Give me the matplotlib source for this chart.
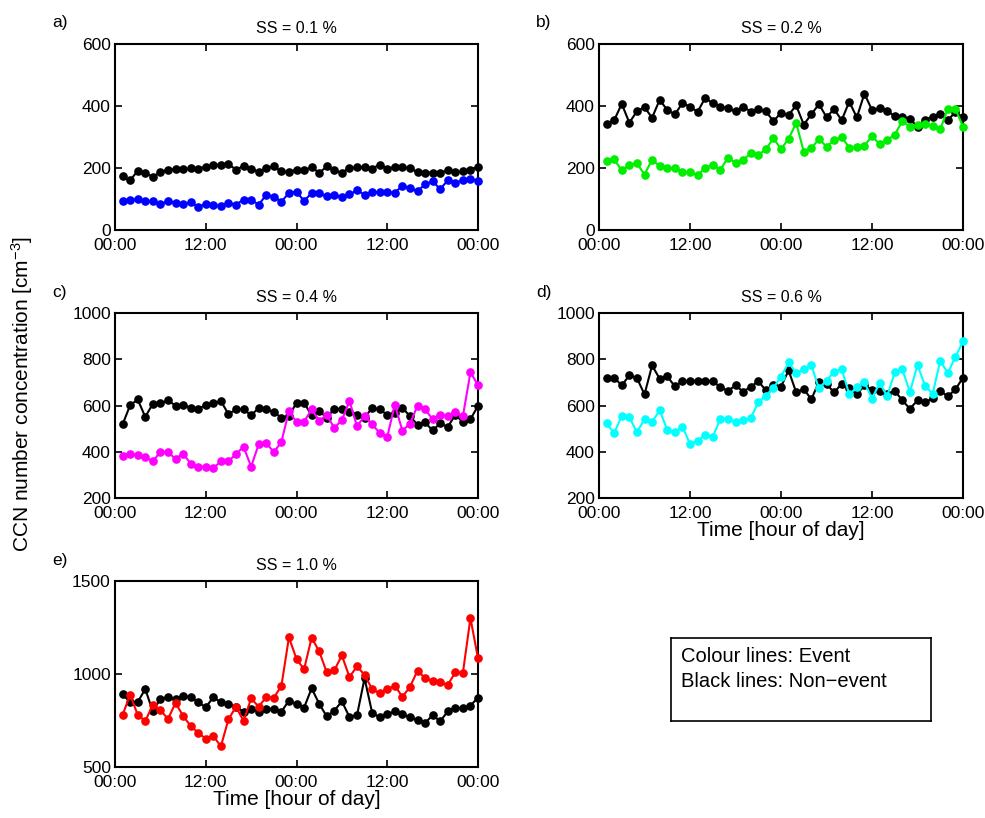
import numpy as np
import matplotlib
matplotlib.use("Agg")
from matplotlib import pyplot as plt

plt.rcParams['font.family'] = ['Liberation Sans', 'DejaVu Sans']
plt.rcParams['mathtext.fontset'] = 'custom'
plt.rcParams['mathtext.rm'] = 'Liberation Sans'
plt.rcParams['mathtext.it'] = 'Liberation Sans'

# hourly values, hour 1 .. 48
hours = np.arange(1, 49)

ev_01 = [92, 97, 100, 92, 92, 83, 94, 88, 85, 89, 75, 84, 81, 76, 87, 82,
         98, 97, 82, 113, 108, 91, 120, 123, 94, 119, 118, 110, 114, 105, 115, 128,
         114, 121, 123, 123, 120, 143, 134, 126, 147, 157, 132, 160, 153, 160, 165, 159]
ne_01 = [174, 160, 191, 183, 172, 186, 195, 196, 196, 199, 198, 204, 210, 211, 212, 195,
         206, 198, 187, 200, 205, 189, 188, 194, 192, 203, 184, 205, 192, 185, 200, 202,
         203, 198, 211, 198, 204, 204, 199, 187, 185, 185, 183, 194, 186, 189, 194, 202]

ev_02 = [223, 228, 192, 210, 215, 179, 227, 206, 200, 200, 187, 187, 177, 200, 211, 194,
         233, 217, 226, 247, 242, 260, 296, 261, 294, 345, 253, 263, 294, 269, 289, 301,
         265, 267, 272, 303, 277, 291, 307, 352, 332, 339, 343, 337, 325, 391, 391, 333]
ne_02 = [343, 354, 407, 346, 383, 396, 362, 420, 387, 373, 409, 398, 381, 426, 409, 398,
         392, 383, 398, 382, 390, 383, 351, 378, 371, 402, 340, 373, 406, 364, 390, 354,
         414, 363, 440, 387, 392, 383, 368, 366, 359, 332, 355, 366, 375, 355, 380, 363]

ev_04 = [382, 391, 384, 376, 359, 399, 399, 369, 392, 349, 335, 335, 329, 359, 358, 391,
         421, 336, 432, 438, 398, 442, 576, 528, 530, 583, 535, 558, 503, 537, 619, 511,
         554, 518, 482, 464, 604, 491, 521, 599, 583, 541, 561, 556, 573, 553, 743, 689]
ne_04 = [518, 601, 626, 551, 607, 609, 622, 600, 603, 590, 584, 603, 610, 619, 563, 583,
         583, 558, 589, 584, 571, 548, 556, 611, 611, 558, 576, 547, 586, 584, 574, 561,
         548, 589, 583, 560, 567, 590, 554, 517, 527, 492, 523, 507, 560, 528, 540, 599]

ev_06 = [523, 480, 556, 550, 484, 541, 528, 580, 494, 484, 509, 434, 447, 473, 464, 543,
         541, 527, 537, 545, 613, 643, 676, 725, 786, 740, 757, 774, 674, 708, 745, 758,
         648, 678, 701, 630, 697, 641, 743, 756, 658, 776, 685, 651, 793, 741, 810, 877]
ne_06 = [720, 720, 687, 730, 719, 648, 773, 716, 726, 683, 705, 705, 708, 705, 706, 679,
         663, 687, 660, 681, 705, 666, 690, 681, 752, 657, 671, 627, 702, 692, 657, 693,
         674, 648, 687, 668, 661, 648, 664, 622, 586, 622, 613, 632, 664, 639, 670, 720]

ev_10 = [780, 887, 781, 746, 835, 806, 758, 844, 776, 720, 685, 651, 667, 611, 756, 824,
         747, 869, 824, 876, 873, 935, 1197, 1081, 1025, 1195, 1122, 1009, 1020, 1100, 984, 1041,
         995, 919, 896, 918, 937, 878, 930, 1018, 978, 964, 955, 941, 1009, 1005, 1301, 1084]
ne_10 = [891, 849, 849, 919, 799, 866, 876, 864, 884, 875, 848, 821, 875, 848, 837, 823,
         797, 812, 797, 814, 812, 797, 857, 839, 819, 923, 840, 772, 803, 853, 769, 778,
         977, 792, 767, 785, 799, 783, 767, 751, 737, 778, 746, 799, 817, 817, 830, 873]

panels = ['a)', 'b)', 'c)', 'd)', 'e)']
titles = ['SS = 0.1 %', 'SS = 0.2 %', 'SS = 0.4 %', 'SS = 0.6 %', 'SS = 1.0 %']
events = [ev_01, ev_02, ev_04, ev_06, ev_10]
nonevents = [ne_01, ne_02, ne_04, ne_06, ne_10]
colours = ['#0000ff', '#00ee00', '#ff00ff', '#00ffff', '#ff0000']
yticks = [[0, 200, 400, 600], [0, 200, 400, 600],
          [200, 400, 600, 800, 1000], [200, 400, 600, 800, 1000],
          [500, 1000, 1500]]
xticks = [0, 12, 24, 36, 48]
xticklabels = ['00:00', '12:00', '00:00', '12:00', '00:00']

W, H = 985, 818
fig = plt.figure(figsize=(W / 100, H / 100), dpi=100)

# axes boxes in pixels: left, top, right, bottom
boxes = [(115, 44, 478, 230), (599, 44, 963, 230),
         (115, 313, 478, 498), (599, 313, 963, 498),
         (115, 581, 478, 767)]

for i in range(5):
    l, t, r, b = boxes[i]
    ax = fig.add_axes([l / W, 1 - b / H, (r - l) / W, (b - t) / H])
    ax.plot(hours, nonevents[i], '-o', color='k', lw=1.5, ms=5.2, clip_on=False, zorder=3)
    ax.plot(hours, events[i], '-o', color=colours[i], lw=1.5, ms=5.2, clip_on=False, zorder=3)
    ax.set_xlim(0, 48)
    ax.set_ylim(yticks[i][0], yticks[i][-1])
    ax.set_yticks(yticks[i])
    ax.set_xticks(xticks)
    ax.set_xticklabels(xticklabels)
    ax.tick_params(direction='in', top=True, right=True, length=5, width=1.2,
                   labelsize=12.5)
    ax.tick_params(axis='x', pad=6)
    ax.tick_params(axis='y', pad=3)
    for s in ax.spines.values():
        s.set_linewidth(1.5)
    ax.set_title(titles[i], fontsize=11.5, pad=8)
    fig.text((l - 63) / W, 1 - 22 / H if i < 2 else 1 - (t - 20) / H, panels[i],
             fontsize=12.5, va='center', ha='left')
    if i in (3, 4):
        ax.set_xlabel('Time [hour of day]', fontsize=15, labelpad=0)

fig.text(22 / W, 1 - 394 / H, 'CCN number concentration [cm$^{-3}$]',
         rotation=90, fontsize=15, va='center', ha='center')

# text box in the empty slot
lb = fig.add_axes([671 / W, 1 - 721 / H, 260 / W, 83 / H])
lb.set_xticks([])
lb.set_yticks([])
for s in lb.spines.values():
    s.set_linewidth(1.2)
lb.text(0.04, 0.78, 'Colour lines: Event', fontsize=14.5, va='center',
        transform=lb.transAxes)
lb.text(0.04, 0.47, 'Black lines: Non\u2212event', fontsize=14.5, va='center',
        transform=lb.transAxes)

plt.savefig('out.png', dpi=100)
plt.close('all')
